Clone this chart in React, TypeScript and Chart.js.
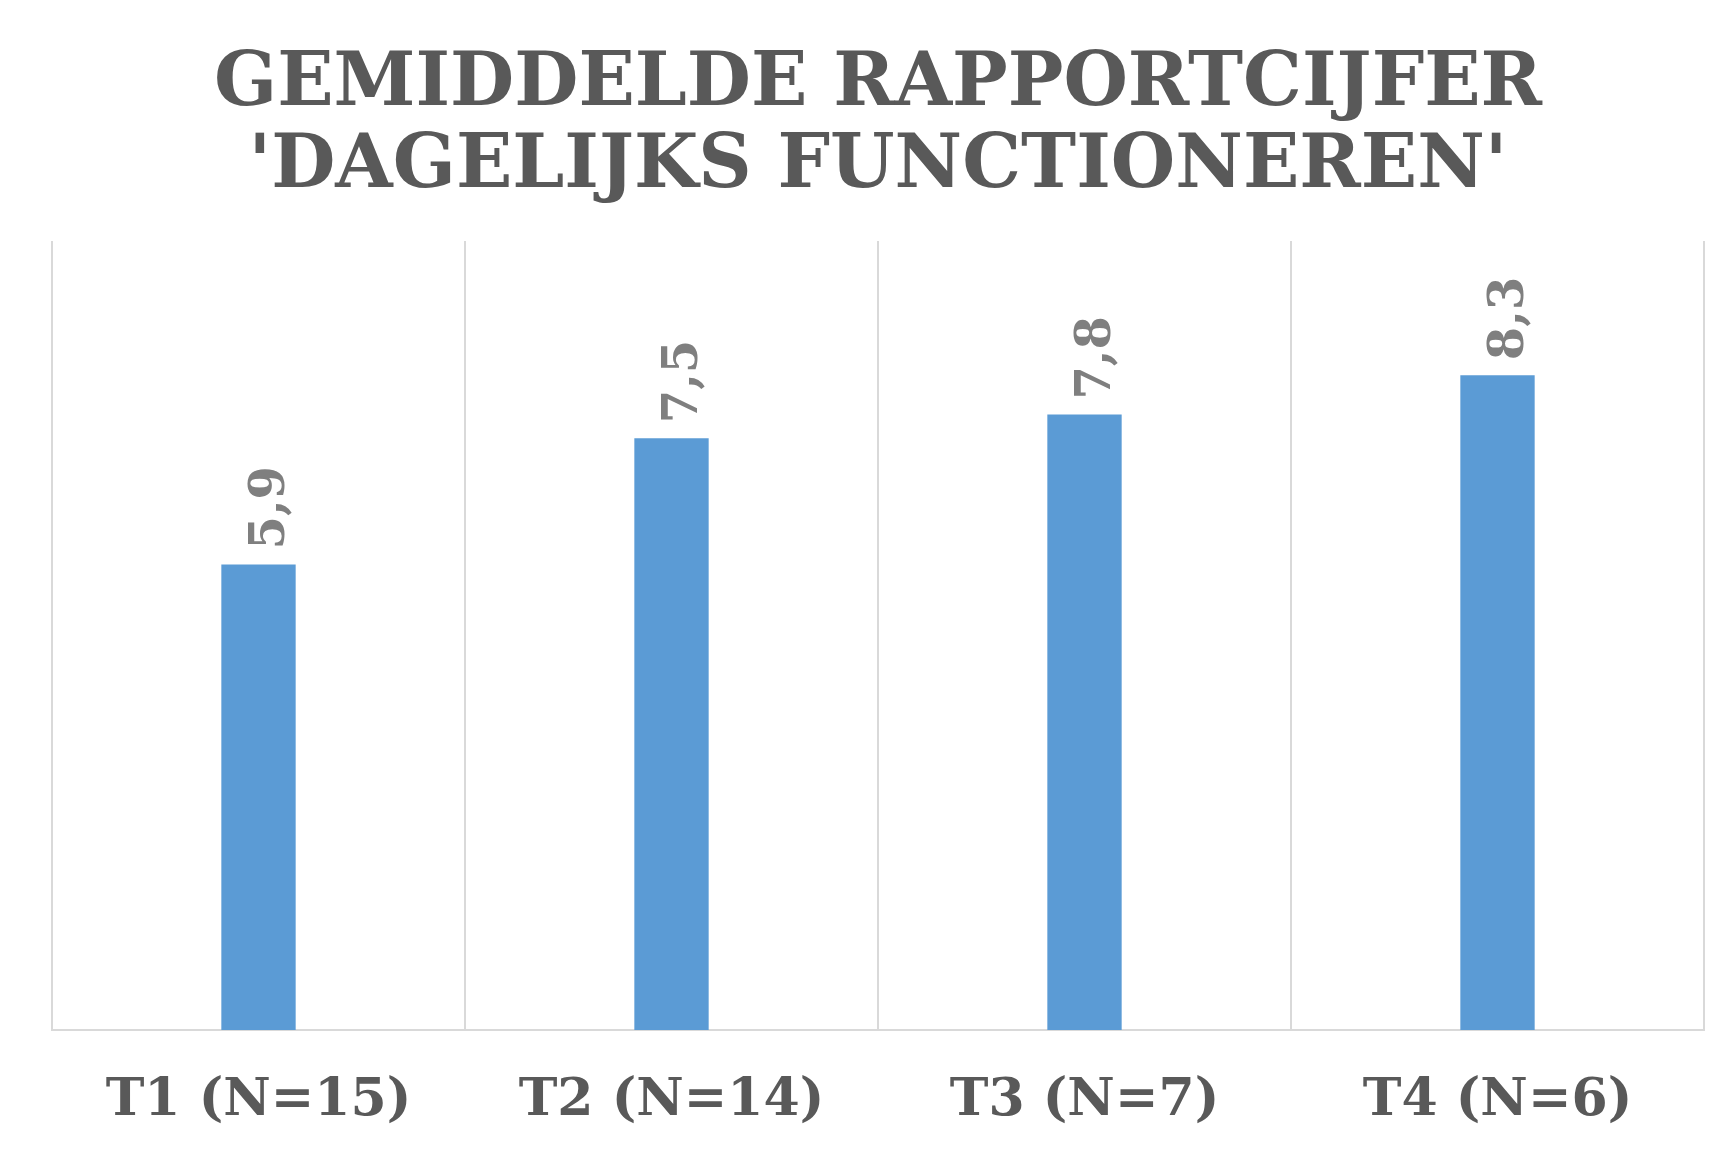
import React, { useEffect, useRef } from "react";
import { Chart, registerables } from "chart.js";

Chart.register(...registerables);

const categories = ["T1 (N=15)", "T2 (N=14)", "T3 (N=7)", "T4 (N=6)"];
const values = [5.9, 7.5, 7.8, 8.3];
const titleLines = ["GEMIDDELDE RAPPORTCIJFER", "'DAGELIJKS FUNCTIONEREN'"];
const yMin = 0;
const yMax = 10;

const FONT = "'DejaVu Serif', 'Liberation Serif', serif";

export default function App() {
  const ref = useRef<HTMLCanvasElement>(null);

  useEffect(() => {
    document.body.style.margin = "0";
    const canvas = ref.current;
    if (!canvas) return;

    const labelPlugin = {
      id: "verticalValueLabels",
      afterDatasetsDraw(chart: any) {
        const ctx = chart.ctx;
        const meta = chart.getDatasetMeta(0);
        ctx.save();
        ctx.font = `bold 48px ${FONT}`;
        ctx.fillStyle = "#7F7F7F";
        ctx.textAlign = "left";
        ctx.textBaseline = "middle";
        meta.data.forEach((bar: any, i: number) => {
          ctx.save();
          ctx.translate(bar.x + 13, bar.y - 15);
          ctx.rotate(-Math.PI / 2);
          ctx.fillText(values[i].toFixed(1).replace(".", ","), 0, 0);
          ctx.restore();
        });
        ctx.restore();
      },
    };

    const chart = new Chart(canvas, {
      type: "bar",
      data: {
        labels: categories,
        datasets: [
          {
            data: values,
            backgroundColor: "#5B9BD5",
            borderWidth: 0,
            barPercentage: 1,
            categoryPercentage: 0.18,
          },
        ],
      },
      options: {
        responsive: false,
        animation: false,
        layout: { padding: { left: 52, right: 20, top: 0, bottom: 0 } },
        plugins: {
          legend: { display: false },
          tooltip: { enabled: false },
          title: {
            display: true,
            text: titleLines,
            color: "#595959",
            font: { family: FONT, size: 74, weight: "bold", lineHeight: 82 / 74 },
            padding: { top: 45, bottom: 32 },
          },
        },
        scales: {
          x: {
            grid: {
              display: true,
              color: "#D9D9D9",
              lineWidth: 2,
              drawTicks: false,
              offset: true,
            },
            border: { display: true, color: "#D9D9D9", width: 2 },
            ticks: {
              color: "#595959",
              font: { family: FONT, size: 52, weight: "bold", lineHeight: 1.2 },
              padding: 40,
              maxRotation: 0,
              autoSkip: false,
            },
            afterFit(scale: any) {
              scale.height = 130;
            },
          },
          y: {
            display: false,
            min: yMin,
            max: yMax,
          },
        },
      },
      plugins: [labelPlugin],
    });

    return () => chart.destroy();
  }, []);

  return (
    <canvas
      ref={ref}
      width={1724}
      height={1160}
      style={{ display: "block", width: 1724, height: 1160 }}
    />
  );
}
